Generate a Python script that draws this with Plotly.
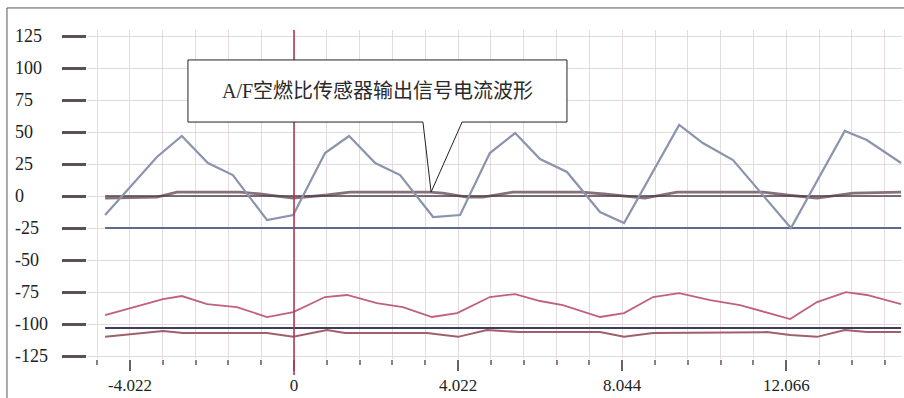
import plotly.graph_objects as go

# ---- data ----
wave_x = [-4.63, -3.36, -2.75, -2.11, -1.50, -0.66, -0.02, 0.76, 1.35, 1.99, 2.60, 3.41, 4.07,
          4.80, 5.42, 6.03, 6.69, 7.50, 8.09, 9.44, 10.02, 10.76, 12.18, 13.50, 14.04, 14.88]
wave_y = [-14.8, 30.5, 46.9, 25.8, 16.4, -18.8, -14.8, 33.6, 46.9, 25.8, 16.4, -16.4, -14.8,
          33.6, 49.2, 28.9, 18.8, -12.5, -21.1, 55.5, 41.4, 28.1, -25.0, 50.8, 43.8, 25.8]

red_x = [-4.63, -3.21, -2.75, -2.13, -1.40, -0.66, -0.02, 0.76, 1.30, 2.03, 2.67, 3.38, 4.00,
         4.80, 5.42, 6.03, 6.59, 7.50, 8.09, 8.80, 9.44, 10.20, 10.93, 12.16, 12.82, 13.53, 14.04, 14.88]
red_y = [-93.0, -80.5, -78.1, -84.4, -86.7, -94.5, -90.6, -78.9, -77.3, -83.6, -86.7, -94.5, -91.4,
         -78.9, -76.6, -82.0, -85.2, -94.5, -91.4, -78.9, -75.8, -81.3, -85.2, -96.1, -82.8, -75.0, -77.3, -84.4]

low_x = [-4.63, -3.21, -2.72, -0.66, -0.02, 0.81, 1.25, 3.26, 4.02, 4.73, 5.54, 7.50, 8.09,
         8.80, 11.59, 12.16, 12.82, 13.50, 14.04, 14.88]
low_y = [-110.0, -105.5, -107.0, -107.0, -110.0, -104.7, -107.0, -107.0, -110.0, -104.7, -106.3,
         -106.3, -110.0, -107.0, -106.3, -108.6, -110.0, -104.7, -106.3, -106.3]

trap_x = [-4.63, -3.36, -2.87, -1.32, -0.83, -0.02, 0.81, 1.37, 3.33, 3.65, 4.24, 4.63, 5.37,
          7.05, 7.60, 8.60, 9.39, 11.50, 12.08, 12.82, 13.70, 14.88]
trap_y = [-1.6, -0.8, 3.1, 3.1, 1.6, -1.6, 0.8, 3.1, 3.1, 2.3, -0.8, -0.8, 3.1,
          3.1, 1.6, -1.6, 3.1, 3.1, 0.8, -1.6, 2.3, 3.1]

flat_x = [-4.63, 14.88]
flat_zero = [0.0, 0.0]
flat_m25 = [-25.0, -25.0]
flat_m103 = [-103.0, -103.0]

y_ticks = [125, 100, 75, 50, 25, 0, -25, -50, -75, -100, -125]
x_ticks = [-4.022, 0, 4.022, 8.044, 12.066]
x_ticktext = ["-4.022", "0", "4.022", "8.044", "12.066"]
x_minor_step = 0.8044

callout_text = "A/F空燃比传感器输出信号电流波形"

# ---- figure ----
fig = go.Figure()

def add_line(x, y, color, width):
    fig.add_trace(go.Scatter(x=x, y=y, mode="lines", line=dict(color=color, width=width),
                             hoverinfo="skip", showlegend=False))

add_line(flat_x, flat_m103, "#3d3d5c", 2)
add_line(low_x, low_y, "#a0606a", 2)
add_line(red_x, red_y, "#c0607c", 1.8)
add_line(flat_x, flat_m25, "#5c6a8c", 2)
add_line(trap_x, trap_y, "#86707a", 2.8)
add_line(flat_x, flat_zero, "#4e4048", 1.6)
add_line(wave_x, wave_y, "#8a94ad", 2.2)

grid_col = "#e6d9df"

fig.update_xaxes(
    range=[-5.074, 14.902], showgrid=True, gridcolor=grid_col, gridwidth=1,
    zeroline=False, showline=False,
    tickmode="array", tickvals=x_ticks, ticktext=x_ticktext,
    ticks="outside", ticklen=11, tickwidth=2, tickcolor="#6a6068",
    tickfont=dict(family="Liberation Serif", size=17, color="#222222"),
    minor=dict(tick0=0, dtick=x_minor_step, ticks="outside", ticklen=5, tickwidth=1.5,
               tickcolor="#8a8088", showgrid=True, gridcolor=grid_col, gridwidth=1),
)
fig.update_yaxes(
    range=[-127.3, 129.7], showgrid=True, gridcolor=grid_col, gridwidth=1,
    zeroline=False, showline=False,
    tickmode="array", tickvals=y_ticks, showticklabels=False,
    ticks="outside", ticklen=24, tickwidth=3, tickcolor="#5e4e56",
)

annotations = []
for v in y_ticks:
    annotations.append(dict(x=0, xref="paper", y=v, yref="y", text=str(v), showarrow=False,
                            xanchor="left", yanchor="middle", xshift=-74,
                            font=dict(family="Liberation Serif", size=18, color="#222222")))

# callout box
bx0, bx1, by0, by1 = -2.60, 6.69, 57.8, 106.3
pl, pr, tipx, tipy = 3.16, 4.12, 3.36, 3.1
path = (f"M {bx0},{by1} L {bx1},{by1} L {bx1},{by0} L {pr},{by0} L {tipx},{tipy} "
        f"L {pl},{by0} L {bx0},{by0} Z")
shapes = [
    dict(type="line", xref="x", yref="paper", x0=0, x1=0, y0=-0.049, y1=1,
         line=dict(color="#b03a58", width=1.6), layer="above"),
    dict(type="path", xref="x", yref="y", path=path, fillcolor="white",
         line=dict(color="#222222", width=1), layer="above"),
    dict(type="line", xref="paper", yref="paper", x0=-0.0982, x1=-0.0982, y0=1.067, y1=-0.2,
         line=dict(color="#555555", width=1)),
    dict(type="line", xref="paper", yref="paper", x0=-0.0982, x1=1.01, y0=1.067, y1=1.067,
         line=dict(color="#555555", width=1)),
]
annotations.append(dict(x=(bx0 + bx1) / 2, y=82, xref="x", yref="y", text=callout_text,
                        showarrow=False, xanchor="center", yanchor="middle",
                        font=dict(family="Liberation Serif, Noto Sans CJK SC", size=20,
                                  color="#2a2a2a")))

fig.update_layout(
    width=904, height=398,
    margin=dict(l=87, r=2, t=30, b=39),
    paper_bgcolor="white", plot_bgcolor="white",
    shapes=shapes, annotations=annotations,
    showlegend=False,
)

fig.write_html("out.html", config={"displayModeBar": False},
               post_script="document.body.style.margin='0';document.body.style.overflow='hidden';")
